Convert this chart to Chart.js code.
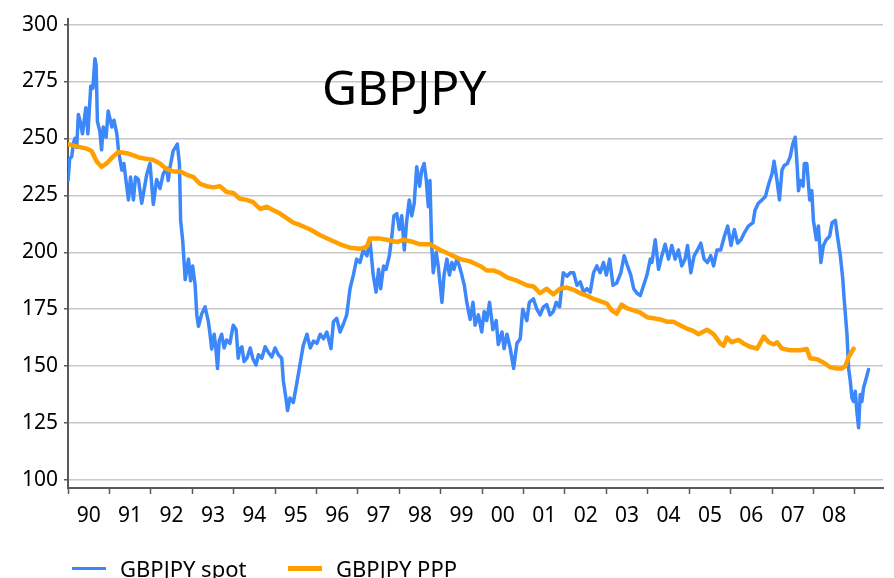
<!DOCTYPE html>
<html>
<head>
<meta charset="utf-8">
<script src="https://cdn.jsdelivr.net/npm/chart.js@4"></script>
<style>
  body { margin: 0; background: #fff; }
  #wrap { position: relative; width: 894px; height: 578px; overflow: hidden; font-family: 'Noto Sans', sans-serif; color: #000; }
  #title { position: absolute; left: 322px; top: 63px; font-size: 48px; line-height: 48px; }
  .item { position: absolute; top: 557px; font-size: 22px; line-height: 22px; white-space: nowrap; }
  .swatch { position: absolute; top: 10px; left: 0; width: 34px; }
  .item span { position: absolute; left: 48px; top: 0; }
</style>
</head>
<body>
<div id="wrap">
  <canvas id="chart-canvas" width="894" height="578"></canvas>
  <div id="title">GBPJPY</div>
  <div class="item" style="left:72px"><div class="swatch" style="height:3px;background:#3c87fa"></div><span>GBPJPY spot</span></div>
  <div class="item" style="left:288px"><div class="swatch" style="height:5px;top:9px;background:#ffa000"></div><span>GBPJPY PPP</span></div>
</div>
<script>
const yearLabels = ['90', '91', '92', '93', '94', '95', '96', '97', '98', '99',
  '00', '01', '02', '03', '04', '05', '06', '07', '08']
const yTicks = [100, 125, 150, 175, 200, 225, 250, 275, 300]

const spotYears = [
  1990.00, 1990.04, 1990.09, 1990.13, 1990.17, 1990.21, 1990.25, 1990.30, 1990.35, 1990.43,
  1990.48, 1990.55, 1990.60, 1990.65, 1990.68, 1990.71, 1990.77, 1990.81, 1990.85, 1990.92,
  1990.97, 1991.06, 1991.11, 1991.18, 1991.22, 1991.30, 1991.35, 1991.40, 1991.46, 1991.51,
  1991.58, 1991.63, 1991.70, 1991.78, 1991.90, 1991.98, 1992.06, 1992.14, 1992.22, 1992.30,
  1992.38, 1992.42, 1992.46, 1992.54, 1992.64, 1992.69, 1992.72, 1992.77, 1992.83, 1992.91,
  1992.96, 1993.01, 1993.07, 1993.11, 1993.15, 1993.23, 1993.31, 1993.39, 1993.43, 1993.47,
  1993.53, 1993.57, 1993.61, 1993.65, 1993.71, 1993.77, 1993.83, 1993.91, 1993.99, 1994.06,
  1994.11, 1994.15, 1994.20, 1994.25, 1994.32, 1994.40, 1994.46, 1994.54, 1994.60, 1994.68,
  1994.76, 1994.84, 1994.92, 1995.00, 1995.08, 1995.16, 1995.20, 1995.27, 1995.30, 1995.36,
  1995.44, 1995.52, 1995.60, 1995.68, 1995.77, 1995.85, 1995.93, 1996.01, 1996.09, 1996.17,
  1996.25, 1996.35, 1996.41, 1996.49, 1996.57, 1996.65, 1996.73, 1996.81, 1996.89, 1996.97,
  1997.05, 1997.13, 1997.22, 1997.29, 1997.37, 1997.44, 1997.50, 1997.55, 1997.62, 1997.68,
  1997.76, 1997.82, 1997.87, 1997.94, 1998.00, 1998.06, 1998.12, 1998.18, 1998.24, 1998.30,
  1998.36, 1998.42, 1998.49, 1998.54, 1998.60, 1998.65, 1998.70, 1998.74, 1998.78, 1998.82,
  1998.89, 1998.94, 1999.03, 1999.08, 1999.15, 1999.21, 1999.27, 1999.32, 1999.39, 1999.45,
  1999.51, 1999.57, 1999.63, 1999.71, 1999.78, 1999.83, 1999.91, 1999.99, 2000.05, 2000.11,
  2000.18, 2000.26, 2000.34, 2000.39, 2000.48, 2000.53, 2000.60, 2000.68, 2000.76, 2000.84,
  2000.92, 2000.98, 2001.08, 2001.14, 2001.24, 2001.32, 2001.40, 2001.48, 2001.56, 2001.64,
  2001.72, 2001.79, 2001.87, 2001.96, 2002.05, 2002.13, 2002.21, 2002.29, 2002.37, 2002.45,
  2002.53, 2002.61, 2002.69, 2002.77, 2002.85, 2002.93, 2003.00, 2003.08, 2003.16, 2003.25,
  2003.35, 2003.43, 2003.51, 2003.59, 2003.66, 2003.74, 2003.82, 2003.90, 2003.98, 2004.06,
  2004.10, 2004.18, 2004.26, 2004.34, 2004.42, 2004.50, 2004.58, 2004.66, 2004.74, 2004.82,
  2004.90, 2004.96, 2005.04, 2005.12, 2005.20, 2005.28, 2005.36, 2005.44, 2005.52, 2005.59,
  2005.67, 2005.76, 2005.85, 2005.93, 2006.01, 2006.09, 2006.17, 2006.25, 2006.33, 2006.43,
  2006.54, 2006.59, 2006.67, 2006.76, 2006.84, 2006.92, 2007.00, 2007.05, 2007.12, 2007.18,
  2007.24, 2007.29, 2007.37, 2007.44, 2007.50, 2007.56, 2007.60, 2007.64, 2007.68, 2007.75,
  2007.78, 2007.84, 2007.91, 2007.96, 2008.00, 2008.07, 2008.12, 2008.18, 2008.24, 2008.31,
  2008.39, 2008.45, 2008.53, 2008.58, 2008.65, 2008.71, 2008.74, 2008.81, 2008.85, 2008.89,
  2008.93, 2008.97, 2009.01, 2009.05, 2009.09, 2009.13, 2009.17, 2009.21, 2009.28, 2009.33
]
const spotValues = [
  231.5, 241, 242, 248, 250, 246, 260.5, 257, 252, 263.5,
  252, 273, 272, 285, 282, 257.5, 253, 245, 255, 250.5,
  262, 255, 258, 252, 244.5, 236, 239, 231.5, 223, 233,
  223, 233, 232, 221.5, 234, 239, 221, 232, 228, 234.5,
  237, 231.5, 237, 244.5, 247.5, 239, 214, 205, 188, 197,
  187.5, 194, 185.5, 172.5, 167.5, 173, 176, 169.5, 164, 157.5,
  164, 158, 149, 161, 164, 158, 161.5, 160, 168, 166,
  153.5, 157.5, 158.5, 152, 153.5, 158, 153.5, 150.5, 155, 153.5,
  158.5, 156, 154, 158, 155, 153.5, 143.5, 135, 130.5, 136,
  134, 142, 150.5, 159, 164, 158, 161, 160, 164, 162,
  165, 157.7, 169.5, 171, 165, 168.5, 172.5, 184, 190, 197,
  195.5, 201, 198.5, 205.5, 190, 182.5, 192.5, 184, 194, 192.5,
  198.5, 207, 216, 217, 210, 216, 201, 214, 223, 216,
  221.5, 237.5, 229, 236, 239, 232, 220, 231.5, 204, 191,
  200, 194, 178, 190, 197, 190, 195.5, 192.5, 197, 194,
  190, 185.5, 178, 170.5, 178, 168, 172.5, 165, 174, 170,
  178, 166, 170, 159.5, 165, 157.7, 164, 157.7, 149, 160,
  162, 175, 170, 178, 179.5, 175, 172.5, 176, 177, 172.5,
  174, 178, 176, 191, 189.5, 191, 191, 185.5, 187, 182.5,
  184, 182.5, 191, 194, 191, 195.5, 190, 197, 185.5, 186.5,
  191, 198.5, 194, 190, 184, 182, 181, 185.5, 190, 197,
  195.5, 205.5, 192.5, 198.5, 203.5, 197, 203, 197, 201, 194,
  197, 203, 191, 198.5, 201, 204, 197, 195.5, 198.5, 194,
  201, 201, 207, 211.5, 203, 210, 204, 205.5, 208.5, 211.5,
  213, 218.5, 221.5, 223, 224.5, 230, 234.5, 240, 231.5, 223,
  236, 238, 239, 242, 247.5, 250.5, 240, 227, 231.5, 229,
  239, 239, 223, 227, 214, 205.5, 211.5, 195.5, 203, 205.5,
  207, 213, 214, 207, 198.5, 188, 180, 164, 149, 143.5,
  136, 134.5, 139, 130, 123, 137.5, 134.5, 140.5, 145, 148.5
]

const pppYears = [
  1990.00, 1990.21, 1990.45, 1990.57, 1990.69, 1990.81, 1990.93, 1991.09, 1991.21, 1991.42,
  1991.58, 1991.74, 1991.90, 1992.06, 1992.22, 1992.38, 1992.54, 1992.71, 1992.87, 1993.03,
  1993.19, 1993.35, 1993.51, 1993.67, 1993.83, 1993.99, 1994.15, 1994.31, 1994.47, 1994.64,
  1994.80, 1994.96, 1995.12, 1995.28, 1995.44, 1995.60, 1995.85, 1996.09, 1996.33, 1996.57,
  1996.81, 1997.05, 1997.22, 1997.29, 1997.54, 1997.70, 1997.94, 1998.10, 1998.34, 1998.50,
  1998.74, 1998.99, 1999.23, 1999.47, 1999.71, 1999.95, 2000.11, 2000.27, 2000.43, 2000.60,
  2000.84, 2001.08, 2001.24, 2001.40, 2001.56, 2001.72, 2001.88, 2002.05, 2002.21, 2002.37,
  2002.53, 2002.69, 2002.85, 2003.01, 2003.13, 2003.25, 2003.37, 2003.49, 2003.66, 2003.82,
  2003.98, 2004.14, 2004.30, 2004.46, 2004.62, 2004.78, 2004.94, 2005.10, 2005.22, 2005.43,
  2005.59, 2005.75, 2005.83, 2005.91, 2006.03, 2006.19, 2006.31, 2006.47, 2006.64, 2006.71,
  2006.80, 2006.92, 2007.04, 2007.12, 2007.24, 2007.44, 2007.68, 2007.84, 2007.92, 2008.09,
  2008.25, 2008.41, 2008.57, 2008.69, 2008.77, 2008.85, 2008.97
]
const pppValues = [
  247.5, 246.5, 245.5, 244.5, 240, 237.5, 239, 242, 244, 243.5,
  242.5, 241.5, 241, 240.5, 239, 236.5, 235.5, 235.5, 234, 233,
  230, 229, 228.5, 229, 226.5, 226, 223.5, 223, 222, 219,
  220, 218.5, 217, 215, 213, 212, 210, 207.5, 205.5, 203.5,
  202, 201.5, 202.5, 206, 206, 205.5, 204.5, 205.5, 204.5, 203.5,
  203.5, 201, 199, 197, 196, 194, 192, 192, 191, 189,
  187.5, 185.5, 185, 182, 184, 181.5, 184, 184.5, 183.5, 182,
  181, 179.5, 178.5, 177.5, 174.5, 173, 177, 175.5, 174.5, 173.5,
  171.5, 171, 170.5, 169.5, 169.5, 168, 166.5, 165.5, 164, 166,
  164, 160, 159, 162.5, 160.5, 161.5, 160, 158.5, 157.7, 160,
  163, 160.5, 159.5, 160.5, 157.7, 157, 157, 157.5, 153.5, 153,
  151.5, 149.5, 149, 149, 150, 154, 157.7
]

const axisColor = '#595959'
const font = { family: "'Noto Sans', sans-serif", size: 21 }

// integer years carry the tick marks, half years carry the labels
const xTicks = []
yearLabels.forEach((lab, i) => {
  xTicks.push({ value: 1990 + i, label: '' })
  xTicks.push({ value: 1990.5 + i, label: lab })
})
xTicks.push({ value: 1990 + yearLabels.length, label: '' })

const chart = new Chart(document.getElementById('chart-canvas'), {
  type: 'line',
  data: {
    datasets: [
      {
        label: 'GBPJPY spot',
        data: spotYears.map((x, i) => ({ x, y: spotValues[i] })),
        borderColor: '#3c87fa',
        backgroundColor: '#3c87fa',
        borderWidth: 3.5,
        order: 1
      },
      {
        label: 'GBPJPY PPP',
        data: pppYears.map((x, i) => ({ x, y: pppValues[i] })),
        borderColor: '#ffa000',
        backgroundColor: '#ffa000',
        borderWidth: 4.5,
        order: 0
      }
    ]
  },
  options: {
    responsive: false,
    animation: false,
    layout: { padding: { left: 0, right: 11, top: 13, bottom: 0 } },
    elements: { point: { radius: 0 }, line: { tension: 0, borderJoinStyle: 'round', borderCapStyle: 'round' } },
    plugins: { legend: { display: false }, tooltip: { enabled: false } },
    scales: {
      x: {
        type: 'linear',
        min: 1990,
        max: 2009.68,
        afterBuildTicks: s => { s.ticks = xTicks.map(t => ({ value: t.value })) },
        afterFit: s => { s.height = 90 },
        ticks: {
          autoSkip: false,
          maxRotation: 0,
          padding: 9,
          color: '#000',
          font,
          callback: (v) => {
            const t = xTicks.find(t => Math.abs(t.value - v) < 1e-6)
            return t ? t.label : ''
          }
        },
        grid: {
          drawOnChartArea: false,
          tickLength: 6,
          tickWidth: 1.5,
          tickColor: c => (c.tick && Number.isInteger(c.tick.value)) ? axisColor : 'rgba(0,0,0,0)'
        },
        border: { color: axisColor, width: 2 }
      },
      y: {
        min: 96.5,
        max: 302.6,
        afterBuildTicks: s => { s.ticks = yTicks.map(v => ({ value: v })) },
        afterFit: s => { s.width = 68 },
        ticks: { padding: 6, color: '#000', font },
        grid: { color: '#c8c8c8', lineWidth: 1.5, tickLength: 4, tickColor: axisColor, tickWidth: 1.5 },
        border: { color: axisColor, width: 2 }
      }
    }
  }
})
</script>
</body>
</html>
